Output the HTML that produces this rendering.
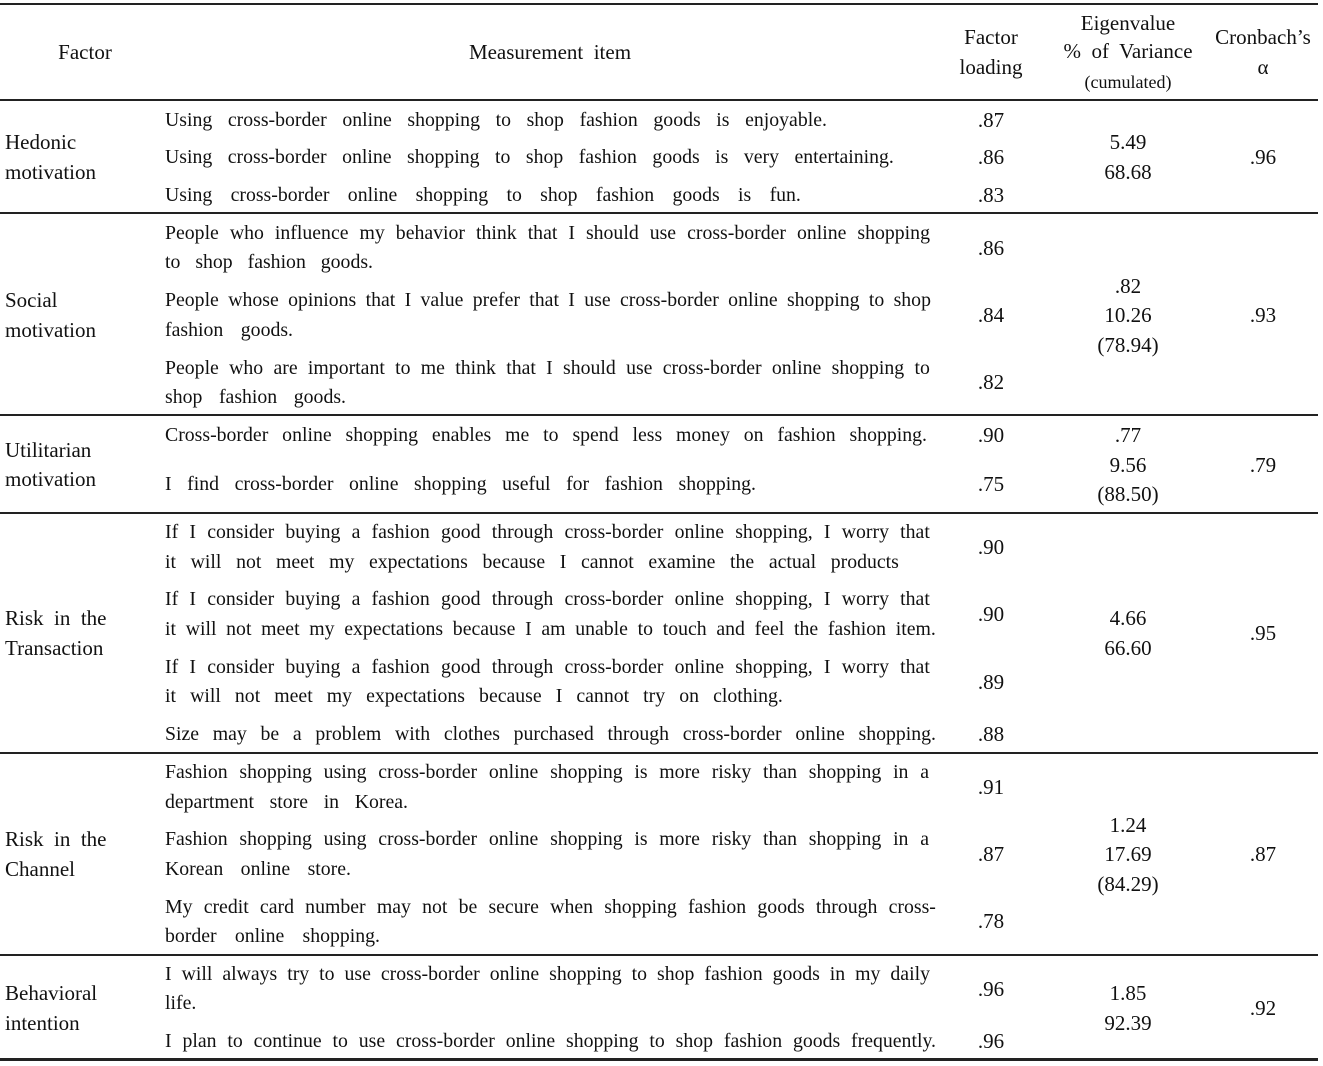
<!DOCTYPE html>
<html><head><meta charset="utf-8"><style>
html,body{margin:0;padding:0;background:#fff;}
body{width:1323px;height:1066px;position:relative;overflow:hidden;font-family:"Liberation Serif",serif;font-size:21px;color:#111;}
#t{position:absolute;left:0;top:2px;width:1323px;height:1060px;}
.l{position:absolute;height:24px;line-height:24px;white-space:nowrap;}
.j{position:absolute;left:165px;height:24px;line-height:24px;display:flex;justify-content:space-between;white-space:nowrap;font-size:19.8px;}
.j i{font-style:normal;}
.c{position:absolute;height:24px;line-height:24px;white-space:nowrap;transform:translateX(-50%);}
.h{position:absolute;left:0;width:1318px;background:#222;}
</style></head><body>
<div class="h" style="top:3px;height:2px"></div>
<div class="h" style="top:99px;height:1.5px"></div>
<div class="h" style="top:212px;height:1.5px"></div>
<div class="h" style="top:414px;height:1.5px"></div>
<div class="h" style="top:512px;height:1.5px"></div>
<div class="h" style="top:752px;height:1.5px"></div>
<div class="h" style="top:954px;height:1.5px"></div>
<div class="h" style="top:1058px;height:3px"></div>
<div id="t">
<div class="c" style="left:85px;top:38px">Factor</div>
<div class="c" style="left:550px;top:38px">Measurement&nbsp; item</div>
<div class="c" style="left:991px;top:23px">Factor</div>
<div class="c" style="left:991px;top:53px">loading</div>
<div class="c" style="left:1128px;top:9px">Eigenvalue</div>
<div class="c" style="left:1128px;top:37px">%&nbsp; of&nbsp; Variance</div>
<div class="c" style="left:1128px;top:68px;font-size:18px">(cumulated)</div>
<div class="c" style="left:1263px;top:23px">Cronbach’s</div>
<div class="c" style="left:1263px;top:53px">α</div>

<div class="l" style="left:5px;top:128px">Hedonic</div><div class="l" style="left:5px;top:158px">motivation</div>
<div class="l" style="left:5px;top:286px">Social</div><div class="l" style="left:5px;top:316px">motivation</div>
<div class="l" style="left:5px;top:436px">Utilitarian</div><div class="l" style="left:5px;top:465px">motivation</div>
<div class="l" style="left:5px;top:604px">Risk&nbsp; in&nbsp; the</div><div class="l" style="left:5px;top:634px">Transaction</div>
<div class="l" style="left:5px;top:825px">Risk&nbsp; in&nbsp; the</div><div class="l" style="left:5px;top:855px">Channel</div>
<div class="l" style="left:5px;top:979px">Behavioral</div><div class="l" style="left:5px;top:1009px">intention</div>

<div class="j" style="top:106px;width:662px"><i>Using</i><i>cross-border</i><i>online</i><i>shopping</i><i>to</i><i>shop</i><i>fashion</i><i>goods</i><i>is</i><i>enjoyable.</i></div>
<div class="j" style="top:143px;width:729px"><i>Using</i><i>cross-border</i><i>online</i><i>shopping</i><i>to</i><i>shop</i><i>fashion</i><i>goods</i><i>is</i><i>very</i><i>entertaining.</i></div>
<div class="j" style="top:181px;width:636px"><i>Using</i><i>cross-border</i><i>online</i><i>shopping</i><i>to</i><i>shop</i><i>fashion</i><i>goods</i><i>is</i><i>fun.</i></div>
<div class="j" style="top:219px;width:765px"><i>People</i><i>who</i><i>influence</i><i>my</i><i>behavior</i><i>think</i><i>that</i><i>I</i><i>should</i><i>use</i><i>cross-border</i><i>online</i><i>shopping</i></div>
<div class="j" style="top:248px;width:208px"><i>to</i><i>shop</i><i>fashion</i><i>goods.</i></div>
<div class="j" style="top:286px;width:766px"><i>People</i><i>whose</i><i>opinions</i><i>that</i><i>I</i><i>value</i><i>prefer</i><i>that</i><i>I</i><i>use</i><i>cross-border</i><i>online</i><i>shopping</i><i>to</i><i>shop</i></div>
<div class="j" style="top:316px;width:128px"><i>fashion</i><i>goods.</i></div>
<div class="j" style="top:354px;width:765px"><i>People</i><i>who</i><i>are</i><i>important</i><i>to</i><i>me</i><i>think</i><i>that</i><i>I</i><i>should</i><i>use</i><i>cross-border</i><i>online</i><i>shopping</i><i>to</i></div>
<div class="j" style="top:383px;width:181px"><i>shop</i><i>fashion</i><i>goods.</i></div>
<div class="j" style="top:421px;width:762px"><i>Cross-border</i><i>online</i><i>shopping</i><i>enables</i><i>me</i><i>to</i><i>spend</i><i>less</i><i>money</i><i>on</i><i>fashion</i><i>shopping.</i></div>
<div class="j" style="top:470px;width:591px"><i>I</i><i>find</i><i>cross-border</i><i>online</i><i>shopping</i><i>useful</i><i>for</i><i>fashion</i><i>shopping.</i></div>
<div class="j" style="top:518px;width:765px"><i>If</i><i>I</i><i>consider</i><i>buying</i><i>a</i><i>fashion</i><i>good</i><i>through</i><i>cross-border</i><i>online</i><i>shopping,</i><i>I</i><i>worry</i><i>that</i></div>
<div class="j" style="top:548px;width:734px"><i>it</i><i>will</i><i>not</i><i>meet</i><i>my</i><i>expectations</i><i>because</i><i>I</i><i>cannot</i><i>examine</i><i>the</i><i>actual</i><i>products</i></div>
<div class="j" style="top:585px;width:765px"><i>If</i><i>I</i><i>consider</i><i>buying</i><i>a</i><i>fashion</i><i>good</i><i>through</i><i>cross-border</i><i>online</i><i>shopping,</i><i>I</i><i>worry</i><i>that</i></div>
<div class="j" style="top:615px;width:771px"><i>it</i><i>will</i><i>not</i><i>meet</i><i>my</i><i>expectations</i><i>because</i><i>I</i><i>am</i><i>unable</i><i>to</i><i>touch</i><i>and</i><i>feel</i><i>the</i><i>fashion</i><i>item.</i></div>
<div class="j" style="top:653px;width:765px"><i>If</i><i>I</i><i>consider</i><i>buying</i><i>a</i><i>fashion</i><i>good</i><i>through</i><i>cross-border</i><i>online</i><i>shopping,</i><i>I</i><i>worry</i><i>that</i></div>
<div class="j" style="top:682px;width:618px"><i>it</i><i>will</i><i>not</i><i>meet</i><i>my</i><i>expectations</i><i>because</i><i>I</i><i>cannot</i><i>try</i><i>on</i><i>clothing.</i></div>
<div class="j" style="top:720px;width:771px"><i>Size</i><i>may</i><i>be</i><i>a</i><i>problem</i><i>with</i><i>clothes</i><i>purchased</i><i>through</i><i>cross-border</i><i>online</i><i>shopping.</i></div>
<div class="j" style="top:758px;width:764px"><i>Fashion</i><i>shopping</i><i>using</i><i>cross-border</i><i>online</i><i>shopping</i><i>is</i><i>more</i><i>risky</i><i>than</i><i>shopping</i><i>in</i><i>a</i></div>
<div class="j" style="top:788px;width:243px"><i>department</i><i>store</i><i>in</i><i>Korea.</i></div>
<div class="j" style="top:825px;width:764px"><i>Fashion</i><i>shopping</i><i>using</i><i>cross-border</i><i>online</i><i>shopping</i><i>is</i><i>more</i><i>risky</i><i>than</i><i>shopping</i><i>in</i><i>a</i></div>
<div class="j" style="top:855px;width:186px"><i>Korean</i><i>online</i><i>store.</i></div>
<div class="j" style="top:893px;width:771px"><i>My</i><i>credit</i><i>card</i><i>number</i><i>may</i><i>not</i><i>be</i><i>secure</i><i>when</i><i>shopping</i><i>fashion</i><i>goods</i><i>through</i><i>cross-</i></div>
<div class="j" style="top:922px;width:215px"><i>border</i><i>online</i><i>shopping.</i></div>
<div class="j" style="top:960px;width:765px"><i>I</i><i>will</i><i>always</i><i>try</i><i>to</i><i>use</i><i>cross-border</i><i>online</i><i>shopping</i><i>to</i><i>shop</i><i>fashion</i><i>goods</i><i>in</i><i>my</i><i>daily</i></div>
<div class="l" style="left:165px;top:989px;font-size:19.8px">life.</div>
<div class="j" style="top:1027px;width:771px"><i>I</i><i>plan</i><i>to</i><i>continue</i><i>to</i><i>use</i><i>cross-border</i><i>online</i><i>shopping</i><i>to</i><i>shop</i><i>fashion</i><i>goods</i><i>frequently.</i></div>

<div class="c" style="left:991px;top:106px">.87</div>
<div class="c" style="left:991px;top:143px">.86</div>
<div class="c" style="left:991px;top:181px">.83</div>
<div class="c" style="left:991px;top:234px">.86</div>
<div class="c" style="left:991px;top:301px">.84</div>
<div class="c" style="left:991px;top:368px">.82</div>
<div class="c" style="left:991px;top:421px">.90</div>
<div class="c" style="left:991px;top:470px">.75</div>
<div class="c" style="left:991px;top:533px">.90</div>
<div class="c" style="left:991px;top:600px">.90</div>
<div class="c" style="left:991px;top:668px">.89</div>
<div class="c" style="left:991px;top:720px">.88</div>
<div class="c" style="left:991px;top:773px">.91</div>
<div class="c" style="left:991px;top:840px">.87</div>
<div class="c" style="left:991px;top:907px">.78</div>
<div class="c" style="left:991px;top:975px">.96</div>
<div class="c" style="left:991px;top:1027px">.96</div>

<div class="c" style="left:1128px;top:128px">5.49</div>
<div class="c" style="left:1128px;top:158px">68.68</div>
<div class="c" style="left:1128px;top:272px">.82</div>
<div class="c" style="left:1128px;top:301px">10.26</div>
<div class="c" style="left:1128px;top:331px">(78.94)</div>
<div class="c" style="left:1128px;top:421px">.77</div>
<div class="c" style="left:1128px;top:451px">9.56</div>
<div class="c" style="left:1128px;top:480px">(88.50)</div>
<div class="c" style="left:1128px;top:604px">4.66</div>
<div class="c" style="left:1128px;top:634px">66.60</div>
<div class="c" style="left:1128px;top:811px">1.24</div>
<div class="c" style="left:1128px;top:840px">17.69</div>
<div class="c" style="left:1128px;top:870px">(84.29)</div>
<div class="c" style="left:1128px;top:979px">1.85</div>
<div class="c" style="left:1128px;top:1009px">92.39</div>

<div class="c" style="left:1263px;top:143px">.96</div>
<div class="c" style="left:1263px;top:301px">.93</div>
<div class="c" style="left:1263px;top:451px">.79</div>
<div class="c" style="left:1263px;top:619px">.95</div>
<div class="c" style="left:1263px;top:840px">.87</div>
<div class="c" style="left:1263px;top:994px">.92</div>
</div>
</body></html>
